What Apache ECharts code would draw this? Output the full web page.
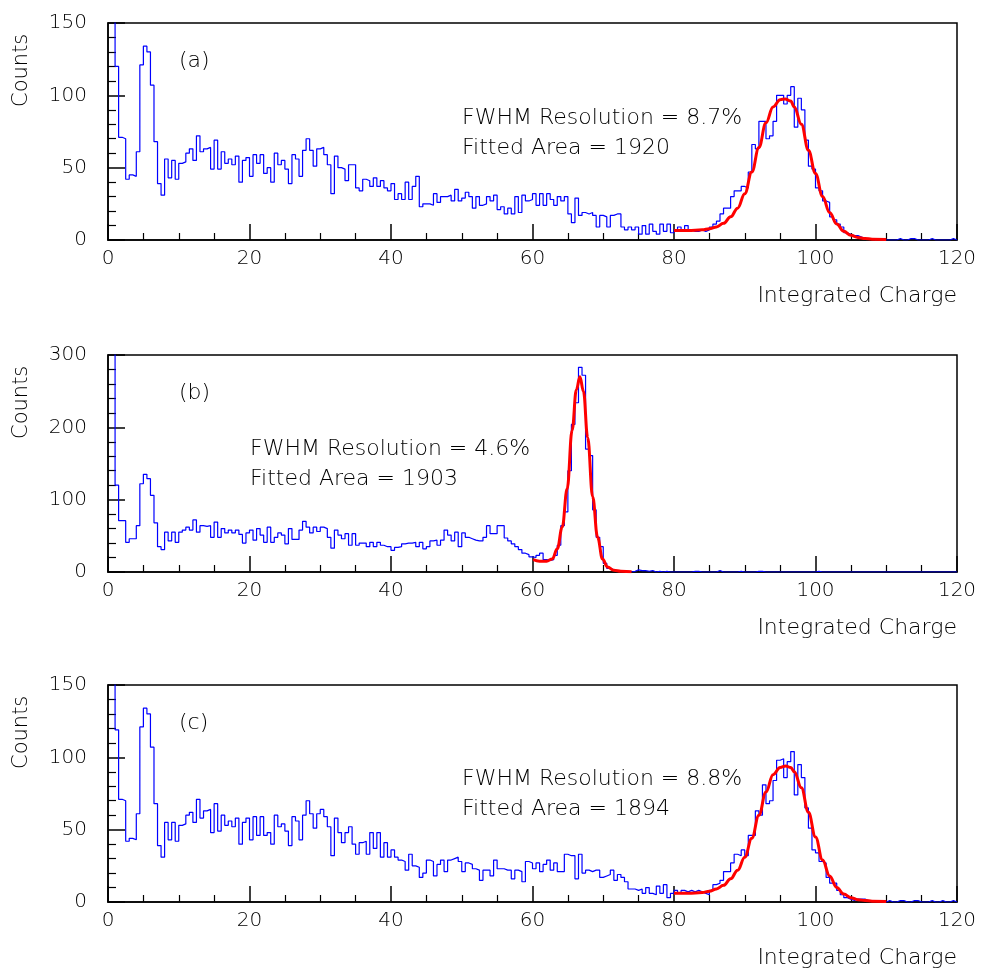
<!DOCTYPE html>
<html>
<head>
<meta charset="utf-8">
<script src="https://cdn.jsdelivr.net/npm/echarts@6/dist/echarts.min.js"></script>
<style>
  html, body { margin: 0; padding: 0; background: #fff; }
  #main { width: 982px; height: 971px; }
</style>
</head>
<body>
<div id="main"></div>
<script>
// bin width of all three histograms (Integrated Charge units)
var binWidth = 0.5;

// panel (a) counts, 240 bins from 0 to 120
var countsA = [
    420, 380, 120, 71, 70, 42, 45, 44, 61, 121,
    134, 130, 107, 68, 39, 31, 56, 43, 55, 42,
    53, 54, 60, 63, 55, 72, 61, 63, 64, 49,
    69, 49, 61, 53, 56, 52, 58, 40, 55, 57,
    44, 59, 53, 59, 46, 50, 40, 60, 52, 55,
    49, 39, 59, 56, 44, 62, 70, 62, 51, 63,
    64, 59, 52, 32, 58, 50, 49, 41, 52, 52,
    36, 34, 42, 41, 37, 43, 37, 41, 36, 34,
    39, 28, 32, 28, 40, 28, 37, 44, 23, 25,
    25, 24, 32, 26, 30, 30, 31, 27, 35, 27,
    29, 33, 30, 22, 30, 24, 25, 30, 27, 31,
    21, 23, 18, 22, 18, 30, 19, 31, 27, 28,
    32, 24, 32, 24, 32, 28, 24, 30, 27, 30,
    18, 12, 29, 17, 19, 18, 19, 17, 9, 17,
    16, 9, 17, 18, 18, 9, 7, 9, 7, 9,
    4, 10, 4, 11, 6, 4, 11, 6, 11, 5,
    7, 9, 6, 10, 7, 6, 6, 7, 6, 7,
    9, 11, 13, 18, 22, 22, 30, 34, 34, 37,
    36, 47, 66, 63, 82, 82, 70, 72, 82, 100,
    100, 94, 100, 106, 78, 98, 90, 69, 51, 49,
    36, 34, 27, 26, 16, 14, 11, 9, 5, 4,
    3, 3, 2, 1, 1, 1, 0, 1, 0, 0,
    0, 0, 0, 1, 0, 0, 1, 1, 0, 0,
    0, 0, 1, 0, 0, 0, 0, 0, 1, 0
];

// panel (b) counts
var countsB = [
    420, 380, 120, 71, 71, 41, 46, 46, 64, 122,
    135, 129, 106, 68, 35, 31, 55, 43, 55, 41,
    55, 58, 62, 58, 72, 55, 64, 63, 64, 48,
    69, 48, 60, 54, 58, 54, 58, 52, 40, 54,
    58, 44, 60, 51, 41, 62, 41, 48, 54, 51,
    39, 60, 45, 45, 58, 70, 62, 54, 62, 56,
    62, 60, 48, 33, 58, 51, 46, 53, 37, 53,
    37, 40, 40, 35, 41, 35, 41, 37, 35, 35,
    30, 34, 35, 39, 40, 40, 41, 35, 41, 32,
    35, 43, 44, 37, 44, 58, 51, 43, 55, 35,
    54, 48, 46, 44, 43, 43, 48, 64, 53, 53,
    64, 64, 47, 43, 39, 35, 31, 26, 24, 21,
    20, 23, 26, 17, 16, 17, 23, 37, 64, 83,
    140, 204, 234, 283, 272, 170, 161, 86, 48, 35,
    12, 5, 3, 1, 1, 1, 1, 0, 1, 3,
    2, 2, 1, 2, 0, 1, 0, 1, 0, 0,
    0, 0, 0, 0, 0, 1, 1, 0, 0, 0,
    0, 0, 2, 0, 0, 0, 0, 0, 1, 0,
    0, 0, 0, 1, 1, 0, 0, 0, 0, 0,
    0, 0, 0, 0, 0, 0, 0, 0, 0, 0,
    1, 0, 0, 0, 0, 0, 0, 0, 0, 0,
    0, 0, 0, 0, 0, 0, 0, 0, 0, 0,
    0, 0, 0, 0, 0, 0, 0, 0, 0, 0,
    0, 0, 0, 0, 0, 0, 0, 0, 0, 0
];

// panel (c) counts
var countsC = [
    420, 380, 119, 71, 70, 42, 44, 43, 61, 121,
    134, 130, 107, 68, 39, 31, 55, 43, 55, 42,
    53, 54, 60, 62, 55, 71, 58, 63, 64, 48,
    68, 49, 60, 53, 56, 52, 58, 40, 55, 58,
    43, 59, 46, 59, 46, 48, 40, 60, 52, 54,
    49, 39, 59, 56, 43, 60, 70, 61, 51, 61,
    64, 59, 52, 32, 58, 48, 41, 48, 52, 40,
    33, 41, 42, 33, 48, 37, 48, 31, 41, 31,
    36, 31, 29, 28, 22, 33, 25, 24, 17, 20,
    29, 28, 18, 26, 29, 21, 29, 30, 31, 28,
    21, 27, 26, 23, 22, 15, 22, 22, 18, 29,
    23, 23, 22, 22, 16, 22, 21, 14, 28, 27,
    23, 27, 21, 26, 29, 22, 27, 21, 21, 33,
    32, 32, 16, 33, 20, 22, 21, 22, 22, 17,
    18, 19, 22, 15, 19, 17, 14, 9, 9, 8,
    9, 6, 10, 6, 5, 11, 6, 12, 3, 6,
    8, 6, 8, 7, 8, 7, 8, 7, 6, 5,
    8, 12, 13, 15, 21, 21, 27, 33, 32, 36,
    32, 46, 46, 63, 60, 81, 68, 70, 84, 98,
    99, 86, 97, 104, 74, 95, 86, 65, 51, 36,
    34, 28, 27, 17, 13, 13, 8, 5, 3, 2,
    1, 2, 2, 2, 1, 1, 1, 1, 0, 0,
    1, 0, 0, 1, 1, 0, 0, 1, 1, 0,
    0, 0, 1, 0, 0, 1, 0, 0, 1, 0
];

// red fit curves
var fitAX = [80, 82, 84, 85, 86, 87, 88, 89, 90, 91, 92, 93, 94, 95, 95.7, 96.5, 97, 98, 99, 100, 101, 102, 103, 104, 105, 106, 107, 108, 110];
var fitAY = [6.5, 6.5, 7, 7.8, 9, 11.5, 16, 22, 32, 47, 64, 81, 92, 97, 97.5, 96, 92, 80, 62, 46, 30, 19, 11, 6, 3.2, 1.8, 1, 0.6, 0.3];

var fitBX = [60.1, 61, 62, 62.8, 63.5, 64.2, 64.9, 65.6, 66.2, 66.7, 67.2, 67.8, 68.5, 69.2, 69.9, 70.6, 71.5, 72.5, 74];
var fitBY = [17, 15, 15, 18, 32, 62, 115, 196, 252, 270, 250, 186, 104, 48, 18, 7, 2.5, 1, 0.5];

var fitCX = [80, 82, 84, 85, 86, 87, 88, 89, 90, 91, 92, 93, 94, 95, 95.8, 96.5, 97, 98, 99, 100, 101, 102, 103, 104, 105, 106, 107, 108, 110];
var fitCY = [6, 6, 6.5, 7.5, 9, 11.5, 16, 22, 31, 44, 60, 76, 88, 93, 94, 93, 90, 79, 62, 45, 29, 18, 10, 5.5, 3, 1.6, 1, 0.6, 0.3];

var panelLabels = ['(a)', '(b)', '(c)'];
var resolutions = ['FWHM Resolution = 8.7%', 'FWHM Resolution = 4.6%', 'FWHM Resolution = 8.8%'];
var areas = ['Fitted Area = 1920', 'Fitted Area = 1903', 'Fitted Area = 1894'];
var yMax = [150, 300, 150];
var yStep = [50, 100, 50];

var font = 'DejaVu Sans';
var textColor = '#000';
var gridTops = [23, 355, 685];
var gridH = 217;
// [x of annotation, centre y of first line, centre y of second line]
var textPos = [[462, 118, 148], [250, 449, 479], [462, 779, 809]];

function histData(counts) {
    var out = [];
    for (var i = 0; i < counts.length; i++) {
        out.push([i * binWidth, counts[i]]);
    }
    out.push([counts.length * binWidth, counts[counts.length - 1]]);
    return out;
}

function pairs(xs, ys) {
    var out = [];
    for (var i = 0; i < xs.length; i++) out.push([xs[i], ys[i]]);
    return out;
}

function textBox(txt, size, pos) {
    var t = {
        text: txt, padding: 0, itemGap: 0,
        textStyle: { fontFamily: font, fontWeight: 200, fontSize: size, color: textColor, lineHeight: 24 }
    };
    for (var k in pos) t[k] = pos[k];
    return t;
}

var allCounts = [countsA, countsB, countsC];
var allFits = [pairs(fitAX, fitAY), pairs(fitBX, fitBY), pairs(fitCX, fitCY)];

var grids = [], xAxes = [], yAxes = [], series = [], titles = [], graphics = [];

for (var p = 0; p < 3; p++) {
    var gTop = gridTops[p];
    grids.push({
        left: 108, width: 849, top: gTop, height: gridH,
        show: true, borderColor: '#000', borderWidth: 1.5, backgroundColor: 'transparent'
    });
    xAxes.push({
        type: 'value', gridIndex: p, min: 0, max: 120, interval: 20,
        axisLine: { show: true, onZero: false, lineStyle: { color: '#000', width: 1.5 } },
        axisTick: { show: true, inside: true, length: 16, lineStyle: { color: '#000', width: 1.5 } },
        minorTick: { show: true, splitNumber: 4, length: 7, lineStyle: { color: '#000', width: 1.2 } },
        splitLine: { show: false },
        minorSplitLine: { show: false },
        axisLabel: { color: textColor, fontSize: 20, margin: 9, fontFamily: font, fontWeight: 200 }
    });
    yAxes.push({
        type: 'value', gridIndex: p, min: 0, max: yMax[p], interval: yStep[p],
        axisLine: { show: true, onZero: false, lineStyle: { color: '#000', width: 1.5 } },
        axisTick: { show: true, inside: true, length: 17, lineStyle: { color: '#000', width: 1.5 } },
        minorTick: { show: true, splitNumber: 5, length: 8, lineStyle: { color: '#000', width: 1.2 } },
        splitLine: { show: false },
        minorSplitLine: { show: false },
        axisLabel: { color: textColor, fontSize: 20, margin: 21, fontFamily: font, fontWeight: 200 }
    });
    series.push({
        type: 'line', xAxisIndex: p, yAxisIndex: p,
        step: 'end', symbol: 'none', clip: true,
        lineStyle: { color: '#0000ff', width: 1.2 },
        data: histData(allCounts[p]),
        z: 2
    });
    series.push({
        type: 'line', xAxisIndex: p, yAxisIndex: p,
        smooth: 0.4, smoothMonotone: 'x', symbol: 'none', clip: true,
        lineStyle: { color: '#ff0000', width: 3 },
        data: allFits[p],
        z: 3
    });

    titles.push(textBox(panelLabels[p], 22, { left: 179, top: gTop + 26 }));
    titles.push(textBox(resolutions[p], 22, { left: textPos[p][0], top: textPos[p][1] - 12 }));
    titles.push(textBox(areas[p], 22, { left: textPos[p][0], top: textPos[p][2] - 12 }));
    titles.push(textBox('Integrated Charge', 22, { right: 25, top: gTop + gridH + 44 }));

    // rotated y-axis title, anchored at its lower end
    graphics.push({
        type: 'text', x: 22, y: gTop + 84, rotation: Math.PI / 2,
        style: { text: 'Counts', font: '200 21px "' + font + '"', fill: textColor, verticalAlign: 'middle' }
    });
}

var option = {
    backgroundColor: '#ffffff',
    animation: false,
    title: titles,
    grid: grids,
    xAxis: xAxes,
    yAxis: yAxes,
    series: series,
    graphic: graphics
};

var myChart = echarts.init(document.getElementById('main'));
myChart.setOption(option);
</script>
</body>
</html>
